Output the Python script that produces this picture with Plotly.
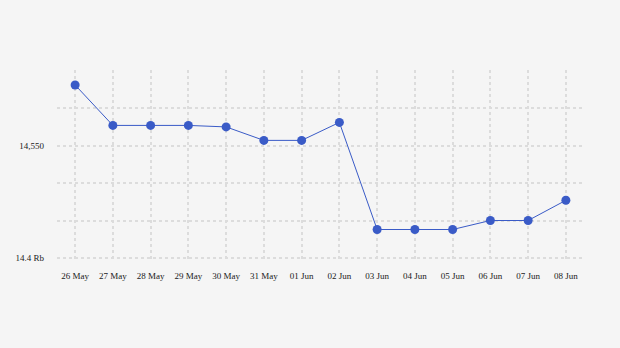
import plotly.graph_objects as go

dates = ["26 May", "27 May", "28 May", "29 May", "30 May", "31 May", "01 Jun",
         "02 Jun", "03 Jun", "04 Jun", "05 Jun", "06 Jun", "07 Jun", "08 Jun"]
values = [14631, 14577, 14577, 14577, 14575, 14557, 14557,
          14581, 14438, 14438, 14438, 14450, 14450, 14477]
ytick_vals = [14400, 14450, 14500, 14550, 14600, 14650]
ytick_text = ["14.4 Rb", "", "", "14,550", "", ""]

fig = go.Figure()
fig.add_trace(go.Scatter(
    x=list(range(len(dates))), y=values, mode="lines+markers",
    line=dict(color="#3a5bc7", width=1),
    marker=dict(color="#3a5bc7", size=9),
    hoverinfo="skip", showlegend=False,
))

grid = dict(showgrid=True, gridcolor="#dcdcdc", griddash="dot", gridwidth=1.5, zeroline=False)
fig.update_layout(
    width=620, height=348,
    margin=dict(l=57, r=36, t=70, b=86),
    paper_bgcolor="#f5f5f5", plot_bgcolor="#f5f5f5",
    font=dict(family="Liberation Serif", size=9, color="#1a1a1a"),
    xaxis=dict(tickmode="array", tickvals=list(range(len(dates))), ticktext=dates,
               range=[-0.48, len(dates) - 1 + 0.48], ticks="", ticklabelstandoff=7,
               showline=False, **grid),
    yaxis=dict(tickmode="array", tickvals=ytick_vals, ticktext=ytick_text,
               range=[14394.6, 14651], ticks="", ticklabelstandoff=12, showline=False, **grid),
)
fig.write_html("out.html")
